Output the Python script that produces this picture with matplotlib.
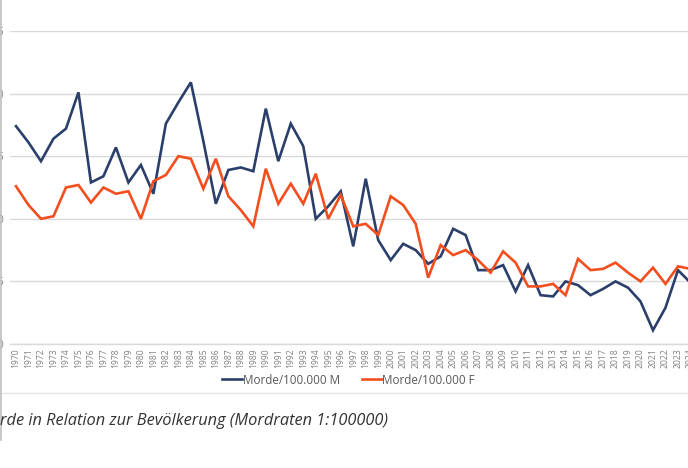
import matplotlib
matplotlib.use("Agg")
import matplotlib.pyplot as plt
from matplotlib.lines import Line2D

years = list(range(1970, 2025))
morde_m = [1.74, 1.61, 1.46, 1.64, 1.72, 2.01, 1.29, 1.34, 1.57, 1.29,
           1.43, 1.20, 1.76, 1.93, 2.09, 1.62, 1.12, 1.39, 1.41, 1.38,
           1.88, 1.46, 1.76, 1.58, 1.00, 1.10, 1.22, 0.78, 1.32, 0.83,
           0.67, 0.80, 0.75, 0.64, 0.70, 0.92, 0.87, 0.59, 0.59, 0.63,
           0.42, 0.63, 0.39, 0.38, 0.50, 0.47, 0.39, 0.44, 0.50, 0.45,
           0.34, 0.11, 0.29, 0.59, 0.49]
morde_f = [1.26, 1.11, 1.00, 1.02, 1.25, 1.27, 1.13, 1.25, 1.20, 1.22,
           1.00, 1.30, 1.35, 1.50, 1.48, 1.24, 1.48, 1.18, 1.07, 0.94,
           1.40, 1.12, 1.28, 1.12, 1.36, 1.00, 1.19, 0.94, 0.96, 0.87,
           1.18, 1.11, 0.96, 0.53, 0.79, 0.71, 0.75, 0.67, 0.57, 0.74,
           0.65, 0.46, 0.46, 0.48, 0.39, 0.68, 0.59, 0.60, 0.65, 0.57,
           0.50, 0.61, 0.48, 0.62, 0.60]
y_ticks = [0.0, 0.5, 1.0, 1.5, 2.0, 2.5]
y_labels = ["0,0", "0,5", "1,0", "1,5", "2,0", "2,5"]
series_names = ["Morde/100.000 M", "Morde/100.000 F"]
caption = "Morde in Relation zur Bevölkerung (Mordraten 1:100000)"

W, H = 688, 468
fig = plt.figure(figsize=(W / 100, H / 100), dpi=100)
fig.patch.set_facecolor("white")

c_m = "#2B3F6B"
c_f = "#F24E1E"
grid_c = "#D9D9D9"
txt_c = "#808080"

bottom_px, top_px = 344, 31
unit = 12.49
x0_px = 16
ax_left = x0_px - 0.5 * unit
ax_right = x0_px + 54.5 * unit
ax = fig.add_axes([ax_left / W, 1 - bottom_px / H,
                   (ax_right - ax_left) / W, (bottom_px - top_px) / H])
idx = list(range(len(years)))
ax.plot(idx, morde_m, color=c_m, lw=1.9, solid_joinstyle="miter", zorder=3)
ax.plot(idx, morde_f, color=c_f, lw=1.9, solid_joinstyle="miter", zorder=3)
ax.set_xlim(-0.5, len(years) - 0.5)
ax.set_ylim(0, 2.5)
ax.set_yticks(y_ticks)
ax.set_yticklabels(y_labels, fontsize=7, color=txt_c, family="Open Sans")
ax.set_xticks(idx)
ax.set_xticklabels([str(y) for y in years], rotation=90, fontsize=6.2,
                   color=txt_c, family="Open Sans")
ax.tick_params(axis="both", length=0)
ax.tick_params(axis="y", pad=4)
ax.tick_params(axis="x", pad=3)
ax.grid(axis="y", color=grid_c, lw=1.0)
ax.set_axisbelow(True)
for s in ["top", "right", "left"]:
    ax.spines[s].set_visible(False)
ax.spines["bottom"].set_color(grid_c)
ax.spines["bottom"].set_linewidth(1.0)

handles = [Line2D([0], [0], color=c_m, lw=1.9),
           Line2D([0], [0], color=c_f, lw=1.9)]
leg = fig.legend(handles, series_names, loc="center",
                 bbox_to_anchor=(348.5 / W, 1 - 380 / H), ncol=2, frameon=False,
                 prop={"family": "Open Sans", "size": 8.4},
                 handlelength=1.7, handletextpad=0.05, columnspacing=1.9)
for t in leg.get_texts():
    t.set_color("#595959")

# chart frame lines of the screenshot
fig.add_artist(Line2D([0, 1], [1 - 393 / H, 1 - 393 / H], color="#E6E6E6",
                      lw=1.0, transform=fig.transFigure))
fig.add_artist(Line2D([1 / W, 1 / W], [1, 1 - 440 / H], color="#BFBFBF",
                      lw=1.2, transform=fig.transFigure))

fig.text(388 / W, 1 - 421 / H, caption, ha="right", va="center",
         fontsize=11.8, style="italic", color="#333333", family="Open Sans")

fig.savefig("out.png", dpi=100, facecolor="white")
